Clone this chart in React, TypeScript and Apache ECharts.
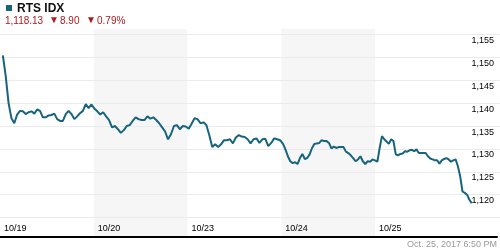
import React, { useEffect, useRef } from 'react';
import * as echarts from 'echarts';

const dayLabels = ['10/19', '10/20', '10/23', '10/24', '10/25'];

const day1 = [1150.4, 1145.9, 1140, 1136.7, 1135.6, 1137.5, 1138.3, 1138.2, 1137.6, 1138, 1138.2, 1137.7, 1138.6, 1138.3, 1136.9, 1136.9, 1137.3, 1137.4, 1137.7, 1136.5, 1136.1, 1136.1, 1137.6, 1138.3, 1137.6, 1136.5, 1137.1, 1137.8, 1138.3, 1139.8, 1138.9, 1139.7, 1138.8];
const day2 = [1138.2, 1137.5, 1138, 1137.1, 1136.3, 1134.7, 1135, 1134.3, 1133.5, 1134.1, 1135, 1135.2, 1136.1, 1136.9, 1136.5, 1136.3, 1136.3, 1137.1, 1136.6, 1136.9, 1136.3, 1135.6, 1134.7, 1133.8, 1132.1, 1133.2, 1135, 1135.2, 1134.3, 1135, 1134.9, 1134.4];
const day3 = [1135.5, 1136.7, 1136.5, 1135.6, 1135.8, 1135.2, 1133, 1130.4, 1131, 1130.4, 1131, 1131.9, 1131.9, 1132.1, 1131.2, 1132.5, 1133, 1132.7, 1132.6, 1132.1, 1131.2, 1132.1, 1132.3, 1131.3, 1132.1, 1132.2, 1130.6, 1131.3, 1132.3, 1132.1, 1131.9, 1131.1];
const day4 = [1129.9, 1128.4, 1127.3, 1126.9, 1127.1, 1126.7, 1128, 1128.9, 1127.8, 1128, 1128.8, 1130.2, 1131.1, 1131.2, 1131.3, 1131.9, 1131.7, 1131.7, 1131.3, 1130.1, 1130.5, 1130.2, 1130.4, 1130.4, 1130.4, 1129.4, 1129.1, 1128.6, 1128, 1127.3, 1127.7, 1128.4, 1127.3, 1126.7, 1127.3, 1127.2, 1127.7, 1127.5, 1127.2];
const day5 = [1130.2, 1132.8, 1132.1, 1131.6, 1131.1, 1132.1, 1131.7, 1128.8, 1128.6, 1128.9, 1129, 1129.5, 1129.4, 1129.7, 1129.8, 1129.5, 1129.9, 1129.1, 1129.1, 1129.1, 1129.1, 1128.4, 1127.9, 1127.7, 1127.5, 1127.5, 1126.8, 1127.5, 1127.8, 1128, 1127.7, 1127.2, 1127.5, 1127.7, 1126.2, 1124, 1120.7, 1120.4, 1120, 1118.9, 1118.13];
const days = [day1, day2, day3, day4, day5];

const yMin = 1115;
const yMax = 1155;
const yStep = 5;

const indexName = 'RTS IDX';
const lastValue = '1,118.13';
const changeValue = '8.90';
const changePct = '0.79%';
const timestamp = 'Oct. 25, 2017 6:50 PM';

const LINE = '#17647f';
const RED = '#b0191e';
const FONT = '"Liberation Sans", Arial, sans-serif';

export default function App() {
  const ref = useRef<HTMLDivElement>(null);
  useEffect(() => {
    const chart = echarts.init(ref.current!, null, { renderer: 'svg' });
    const data: [number, number][] = [];
    days.forEach((vals, d) => vals.forEach((v, i) => data.push([d + (i + 1) / vals.length, v])));
    chart.setOption({
      animation: false,
      grid: [
        { left: 0, right: 0, top: 34.4, height: 183.2 },
        { left: 0, right: 0, top: 29, bottom: 13 },
      ],
      xAxis: [
        { type: 'value', gridIndex: 0, min: 0, max: 5.3, show: false },
        {
          type: 'value', gridIndex: 1, min: 0, max: 5.3, interval: 1, z: 0,
          axisLine: { show: true, lineStyle: { color: '#000', width: 2 } },
          axisTick: { show: false },
          splitLine: { show: false },
          splitArea: { show: true, areaStyle: { color: ['rgba(0,0,0,0)', '#f6f6f6', 'rgba(0,0,0,0)', '#f6f6f6', 'rgba(0,0,0,0)', 'rgba(0,0,0,0)'] } },
          axisLabel: {
            inside: true, align: 'left', verticalAlign: 'bottom', margin: 5, padding: [0, 0, 0, 4],
            color: '#000', fontSize: 9, fontFamily: FONT,
            formatter: (v: number) => dayLabels[v] ?? '',
          },
        },
      ],
      yAxis: [
        {
          type: 'value', gridIndex: 0, position: 'right', min: yMin, max: yMax, interval: yStep, z: 1,
          axisLine: { show: false }, axisTick: { show: false },
          splitLine: { show: true, lineStyle: { color: '#ebebeb', width: 1 } },
          axisLabel: {
            inside: true, margin: 6, verticalAlign: 'top', padding: [1, 0, 0, 0],
            color: '#000', fontSize: 9, fontFamily: FONT,
            formatter: (v: number) => (v === yMin ? '' : v.toLocaleString('en-US')),
          },
        },
        { type: 'value', gridIndex: 1, show: false, min: 0, max: 1 },
      ],
      series: [
        {
          type: 'line', xAxisIndex: 0, yAxisIndex: 0, data, symbol: 'none', showSymbol: false,
          lineStyle: { color: LINE, width: 2 }, z: 3,
        },
      ],
      graphic: [
        { type: 'rect', shape: { x: 6, y: 5, width: 6, height: 6 }, style: { fill: LINE } },
        { type: 'text', x: 17, y: 8, style: { text: indexName, fontSize: 12, fontWeight: 'bold', fontFamily: FONT, fill: '#111', verticalAlign: 'middle', align: 'left' } },
        { type: 'text', x: 5, y: 20.7, style: { text: lastValue, fontSize: 10, fontFamily: FONT, fill: RED, verticalAlign: 'middle', align: 'left' } },
        { type: 'text', x: 49, y: 19.8, style: { text: '▼', fontSize: 10, fontFamily: FONT, fill: RED, verticalAlign: 'middle', align: 'left' } },
        { type: 'text', x: 60, y: 20.7, style: { text: changeValue, fontSize: 10, fontFamily: FONT, fill: RED, verticalAlign: 'middle', align: 'left' } },
        { type: 'text', x: 86, y: 19.8, style: { text: '▼', fontSize: 10, fontFamily: FONT, fill: RED, verticalAlign: 'middle', align: 'left' } },
        { type: 'text', x: 97, y: 20.7, style: { text: changePct, fontSize: 10, fontFamily: FONT, fill: RED, verticalAlign: 'middle', align: 'left' } },
        { type: 'text', x: 497, y: 244, style: { text: timestamp, fontSize: 9, fontFamily: FONT, fill: '#999', verticalAlign: 'middle', align: 'right' } },
      ],
    });
    return () => chart.dispose();
  }, []);
  return <div ref={ref} style={{ position: 'fixed', left: 0, top: 0, width: 500, height: 250 }} />;
}
